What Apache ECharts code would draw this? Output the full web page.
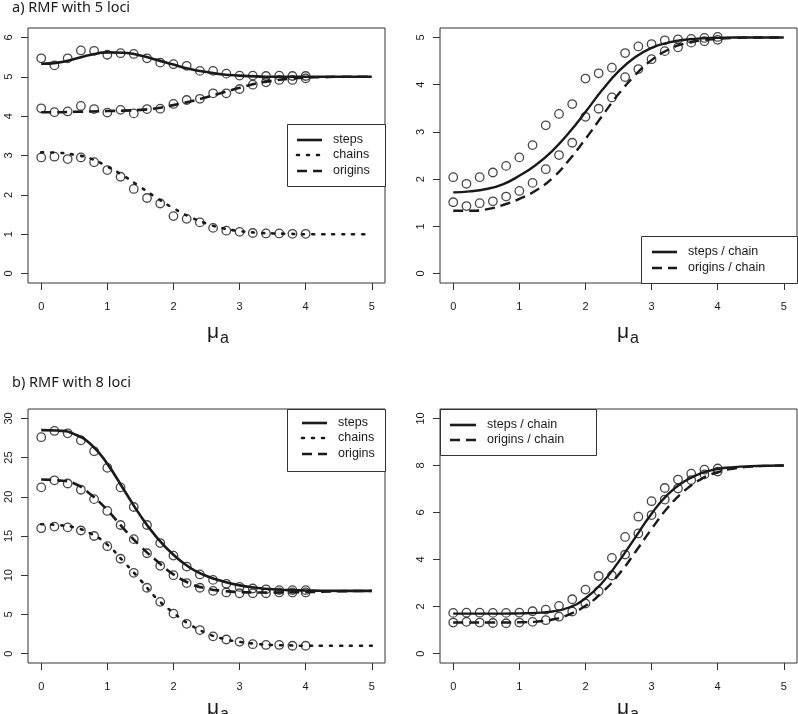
<!DOCTYPE html>
<html><head><meta charset="utf-8">
<script src="https://cdn.jsdelivr.net/npm/echarts@6/dist/echarts.min.js"></script>
<style>html,body{margin:0;padding:0;background:#fff}#c{width:798px;height:714px}</style>
</head><body><div id="c"></div>
<script>
// x positions of simulated points and of the fitted curves
var xPts = [0,0.2,0.4,0.6,0.8,1.0,1.2,1.4,1.6,1.8,2.0,2.2,2.4,2.6,2.8,3.0,3.2,3.4,3.6,3.8,4.0];
var xCurve = [0,0.25,0.5,0.75,1.0,1.25,1.5,1.75,2.0,2.25,2.5,2.75,3.0,3.25,3.5,3.75,4.0,4.25,4.5,4.75,5.0];
var xTicks = [0,1,2,3,4,5];

// a) RMF with 5 loci — left
var aStepsPts   = [5.47,5.29,5.47,5.67,5.66,5.56,5.60,5.58,5.47,5.36,5.32,5.28,5.15,5.15,5.08,5.03,5.03,5.02,5.03,5.02,5.02];
var aChainsPts  = [2.95,2.97,2.91,2.95,2.83,2.63,2.46,2.15,1.92,1.78,1.46,1.39,1.30,1.16,1.09,1.06,1.03,1.02,1.02,1.01,1.01];
var aOriginsPts = [4.20,4.10,4.12,4.26,4.18,4.09,4.16,4.07,4.18,4.19,4.31,4.41,4.44,4.58,4.58,4.69,4.80,4.86,4.92,4.92,4.96];
var aStepsCurve   = [5.33,5.36,5.45,5.56,5.62,5.61,5.54,5.43,5.31,5.20,5.12,5.06,5.03,5.01,5.00,5.00,5.00,5.00,5.00,5.00,5.00];
var aChainsCurve  = [3.08,3.07,3.02,2.92,2.72,2.48,2.20,1.92,1.66,1.44,1.27,1.15,1.08,1.04,1.02,1.01,1.00,1.00,1.00,1.00,1.00];
var aOriginsCurve = [4.10,4.10,4.11,4.12,4.13,4.14,4.16,4.20,4.28,4.37,4.48,4.60,4.72,4.83,4.90,4.95,4.98,4.99,5.00,5.00,5.00];
var aYTicks = [0,1,2,3,4,5,6];

// a) right — per chain
var arStepsPts   = [2.04,1.90,2.04,2.14,2.28,2.46,2.72,3.14,3.38,3.59,4.13,4.24,4.36,4.67,4.81,4.86,4.94,4.96,4.97,4.99,5.01];
var arOriginsPts = [1.51,1.43,1.49,1.53,1.63,1.75,1.92,2.21,2.51,2.77,3.32,3.49,3.73,4.16,4.33,4.54,4.71,4.79,4.89,4.92,4.95];
var arStepsCurve   = [1.72,1.74,1.79,1.89,2.07,2.30,2.60,2.98,3.42,3.88,4.28,4.58,4.78,4.89,4.95,4.98,4.99,5.00,5.00,5.00,5.00];
var arOriginsCurve = [1.33,1.33,1.36,1.45,1.58,1.76,2.02,2.40,2.85,3.33,3.80,4.20,4.52,4.74,4.87,4.94,4.97,4.99,5.00,5.00,5.00];
var arYTicks = [0,1,2,3,4,5];

// b) RMF with 8 loci — left
var bStepsPts   = [27.6,28.4,28.1,27.2,25.8,23.7,21.2,18.7,16.4,14.1,12.5,11.1,10.1,9.4,8.9,8.5,8.3,8.2,8.1,8.1,8.1];
var bChainsPts  = [16.0,16.2,16.1,15.7,15.0,13.7,12.1,10.3,8.4,6.6,5.1,3.8,3.0,2.2,1.8,1.5,1.2,1.1,1.1,1.0,1.0];
var bOriginsPts = [21.2,22.1,21.7,20.9,19.7,18.2,16.4,14.6,12.8,11.2,10.0,9.0,8.4,8.0,7.8,7.7,7.7,7.7,7.8,7.8,7.8];
var bStepsCurve   = [28.5,28.45,28.0,26.7,24.2,20.9,17.6,14.8,12.6,10.95,9.9,9.2,8.7,8.4,8.2,8.1,8.05,8.02,8.0,8.0,8.0];
var bChainsCurve  = [16.5,16.4,16.1,15.3,13.9,11.7,9.4,7.0,5.2,3.7,2.6,1.9,1.5,1.25,1.1,1.05,1.0,1.0,1.0,1.0,1.0];
var bOriginsCurve = [22.2,22.1,21.7,20.3,18.3,15.9,13.7,11.8,10.1,8.95,8.3,8.0,7.85,7.8,7.8,7.82,7.85,7.9,7.95,7.98,8.0];
var bYTicks = [0,5,10,15,20,25,30];

// b) right — per chain
var brStepsPts   = [1.73,1.74,1.74,1.73,1.73,1.74,1.80,1.87,2.03,2.31,2.72,3.30,4.07,4.96,5.82,6.48,7.04,7.40,7.65,7.82,7.87];
var brOriginsPts = [1.32,1.35,1.32,1.30,1.29,1.32,1.35,1.42,1.57,1.79,2.13,2.65,3.32,4.21,5.11,5.89,6.55,7.02,7.38,7.62,7.74];
var brStepsCurve   = [1.70,1.70,1.70,1.70,1.71,1.73,1.79,1.96,2.35,3.00,3.90,4.92,5.95,6.78,7.33,7.67,7.85,7.93,7.97,7.99,8.00];
var brOriginsCurve = [1.32,1.32,1.32,1.32,1.33,1.36,1.45,1.66,2.03,2.60,3.35,4.30,5.30,6.22,6.93,7.42,7.71,7.87,7.95,7.98,8.00];
var brYTicks = [0,2,4,6,8,10];

var titles = ['a) RMF with 5 loci', 'b) RMF with 8 loci'];
var legA = ['steps','chains','origins'];
var legR = ['steps / chain','origins / chain'];

var pair = function(xs, ys){ return xs.map(function(x,i){ return [x, ys[i]]; }); };
var INK = '#1a1a1a';
var FONT = '"Liberation Sans", Arial, sans-serif';

var grids = [
  {left:28, top:28, width:357, height:255},
  {left:440, top:28, width:357, height:255},
  {left:28, top:409, width:357, height:254},
  {left:440, top:409, width:357, height:254}
];
var yRanges = [[-0.24,6.24,aYTicks],[-0.2,5.2,arYTicks],[-1.2,31.2,bYTicks],[-0.4,10.4,brYTicks]];

var option = {
  animation:false,
  backgroundColor:'#fff',
  grid: grids.map(function(g){ return Object.assign({show:true, borderColor:'#333', borderWidth:1, backgroundColor:'transparent'}, g); }),
  xAxis: grids.map(function(g,i){ return {
    type:'value', gridIndex:i, min:-0.2, max:5.2, position:'bottom',
    axisLine:{show:false, onZero:false}, splitLine:{show:false},
    axisTick:{show:true, inside:false, length:7, customValues:xTicks, lineStyle:{color:'#333'}},
    axisLabel:{show:true, customValues:xTicks, margin:18, fontSize:11, fontFamily:FONT, color:INK}
  }; }),
  yAxis: yRanges.map(function(r,i){ return {
    type:'value', gridIndex:i, min:r[0], max:r[1], position:'left',
    axisLine:{show:false, onZero:false}, splitLine:{show:false},
    axisTick:{show:true, inside:false, length:7, customValues:r[2], lineStyle:{color:'#333'}},
    axisLabel:{show:true, customValues:r[2], rotate:90, margin:14, fontSize:11, fontFamily:FONT, color:INK}
  }; }),
  series: []
};

function curve(name, gi, ys, type, w){
  var ls = {color:INK, width:w};
  if (type === 'dashed') ls.type = [10,6];
  if (type === 'dotted') { ls.type = [2,8]; ls.cap = 'round'; }
  option.series.push({type:'line', name:name, xAxisIndex:gi, yAxisIndex:gi, data:pair(xCurve, ys),
    smooth:0.5, showSymbol:false, lineStyle:ls, z:2, silent:true});
}
function pts(name, gi, ys){
  option.series.push({type:'scatter', name:name+' (sim)', xAxisIndex:gi, yAxisIndex:gi, data:pair(xPts, ys),
    symbol:'circle', symbolSize:8.5, itemStyle:{color:'rgba(0,0,0,0)', borderColor:INK, borderWidth:1.3}, z:3, silent:true});
}

curve('steps',0,aStepsCurve,'solid',2.6); curve('chains',0,aChainsCurve,'dotted',2.6); curve('origins',0,aOriginsCurve,'dashed',2.6);
pts('steps',0,aStepsPts); pts('chains',0,aChainsPts); pts('origins',0,aOriginsPts);
curve('steps / chain',1,arStepsCurve,'solid',2.4); curve('origins / chain',1,arOriginsCurve,'dashed',2.4);
pts('steps / chain',1,arStepsPts); pts('origins / chain',1,arOriginsPts);
curve('steps',2,bStepsCurve,'solid',2.6); curve('chains',2,bChainsCurve,'dotted',2.6); curve('origins',2,bOriginsCurve,'dashed',2.6);
pts('steps',2,bStepsPts); pts('chains',2,bChainsPts); pts('origins',2,bOriginsPts);
curve('steps / chain',3,brStepsCurve,'solid',2.4); curve('origins / chain',3,brOriginsCurve,'dashed',2.4);
pts('steps / chain',3,brStepsPts); pts('origins / chain',3,brOriginsPts);

// legends, titles, axis names
var G = [];
function legend(x, y, w, h, names, styles, lx1, lx2, tx, ys){
  G.push({type:'rect', z:100, shape:{x:x+0.5, y:y+0.5, width:w, height:h}, style:{fill:'#fff', stroke:'#333', lineWidth:1}});
  names.forEach(function(n,i){
    var st = {stroke:INK, lineWidth:2.6};
    if (styles[i]==='dashed') st.lineDash = [10,6];
    if (styles[i]==='dotted') { st.lineDash = [2,8]; st.lineCap='round'; }
    G.push({type:'line', z:101, shape:{x1:lx1, y1:ys[i], x2:lx2, y2:ys[i]}, style:st});
    G.push({type:'text', z:101, x:tx, y:ys[i], style:{text:n, font:'12.5px '+FONT, fill:INK, verticalAlign:'middle'}});
  });
}
legend(287, 124, 98, 62, legA, ['solid','dotted','dashed'], 297, 322, 333, [140,155,171]);
legend(641, 236, 156, 47, legR, ['solid','dashed'], 652, 677, 688, [252,268]);
legend(287, 409, 98, 62, legA, ['solid','dotted','dashed'], 302, 327, 338, [423,438,454]);
legend(440, 409, 156, 46, legR, ['solid','dashed'], 450, 476, 487, [425,440]);

G.push({type:'text', x:12, y:8, style:{text:titles[0], font:'14.5px "Noto Sans", "Open Sans", sans-serif', fill:INK, verticalAlign:'middle'}});
G.push({type:'text', x:12, y:383, style:{text:titles[1], font:'14.5px "Noto Sans", "Open Sans", sans-serif', fill:INK, verticalAlign:'middle'}});

function muA(cx, ybase){
  G.push({type:'text', x:cx-12, y:ybase, style:{text:'μ', font:'21px '+FONT, fill:INK, verticalAlign:'bottom'}});
  G.push({type:'text', x:cx+1, y:ybase+4, style:{text:'a', font:'16px '+FONT, fill:INK, verticalAlign:'bottom'}});
}
muA(219, 343); muA(629, 343); muA(219, 719); muA(629, 719);
option.graphic = G;

var chart = echarts.init(document.getElementById('c'), null, {renderer:'canvas'});
chart.setOption(option);
</script></body></html>
